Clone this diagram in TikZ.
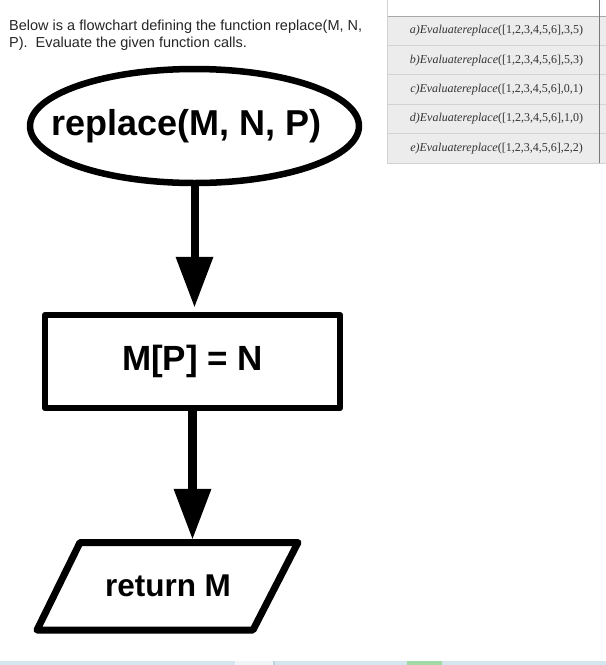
\documentclass[tikz,border=0pt]{standalone}
\usepackage{fontspec}
\setmainfont{Liberation Serif}
\newfontfamily\arial{Liberation Sans}
\usetikzlibrary{shapes.geometric,arrows.meta}
\definecolor{rowbg}{HTML}{ECECEC}
\definecolor{gridc}{HTML}{D2D2D2}
\definecolor{gridm}{HTML}{A8A8A8}
\definecolor{gridd}{HTML}{7A7A7A}
\definecolor{celltxt}{HTML}{333333}
\definecolor{stripA}{HTML}{D6E6EE}
\definecolor{stripB}{HTML}{EEF4F7}
\definecolor{stripC}{HTML}{BFD3DD}
\definecolor{stripG}{HTML}{A3D9A5}
\begin{document}
\begin{tikzpicture}[x=1pt,y=-1pt,
  flow/.style={draw=black, fill=white, inner sep=0pt, line join=round},
  conn/.style={line width=8pt, -{Triangle[width=38pt,length=50pt,line width=0pt]}},
  qtext/.style={font=\arial\fontsize{14.5}{16.6}\selectfont, anchor=base west, inner sep=0pt, text=black!85},
  celltext/.style={font=\fontsize{12}{14}\selectfont, inner sep=0pt, text=celltxt}
]
\fill[white] (0,0) rectangle (606,665);
\useasboundingbox (0,0) rectangle (606,665);

% bottom strip
\fill[stripA] (0,661) rectangle (235,665);
\fill[stripB] (235,661) rectangle (273,665);
\fill[stripC] (273,661) rectangle (275,665);
\fill[stripA] (275,661) rectangle (407,665);
\fill[stripG] (407,661) rectangle (442,665);
\fill[stripA] (442,661) rectangle (606,665);

% question text
\node[qtext] (q1) at (9,30.7) {Below is a flowchart defining the function replace(M, N,};
\node[qtext] (q2) at (9,47.3) {P).\hspace{8pt}Evaluate the given function calls.};

% table
\fill[rowbg] (387,16) rectangle (606,163);
\foreach \yy in {45.4,74.8,104.2,133.6,163} \draw[gridc, line width=1pt] (387,\yy) -- (606,\yy);
\draw[gridm, line width=1pt] (387,16) -- (606,16);
\draw[gridc, line width=1pt] (387,0) -- (387,163.5);
\draw[gridd, line width=1pt] (599,0) -- (599,163);

\node[celltext] (ta) at (496.5,30.9) {\textit{a)Evaluatereplace}([1,2,3,4,5,6],3,5)};
\node[celltext] (tb) at (496.5,60.3) {\textit{b)Evaluatereplace}([1,2,3,4,5,6],5,3)};
\node[celltext] (tc) at (496.5,89.7) {\textit{c)Evaluatereplace}([1,2,3,4,5,6],0,1)};
\node[celltext] (td) at (496.5,119.1) {\textit{d)Evaluatereplace}([1,2,3,4,5,6],1,0)};
\node[celltext] (te) at (496.5,148.5) {\textit{e)Evaluatereplace}([1,2,3,4,5,6],2,2)};

% flowchart
\node[flow, ellipse, line width=6.5pt, minimum width=329pt, minimum height=114pt,
      font=\arial\bfseries\fontsize{36}{40}\selectfont] (start) at (194.5,126)
      {\makebox[0pt]{\kern-16pt replace(M, N, P)}};
\node[flow, rectangle, line width=6.5pt, minimum width=295pt, minimum height=93pt,
      font=\arial\bfseries\fontsize{35}{40}\selectfont] (assign) at (192.5,361.5) {M[P] = N};
% parallelogram outline
\draw[line width=7pt, line join=round, fill=white]
  (80,542.5) -- (298,542.5) -- (253,630) -- (37,630) -- cycle;
\node[inner sep=0pt, minimum width=180pt, minimum height=94.5pt,
      font=\arial\bfseries\fontsize{31.5}{36}\selectfont] (ret) at (168,586.25) {return M};

\draw[conn, shorten >=5pt] (start.south) -- (start.south |- assign.north);
\draw[conn, line width=9pt] (assign.south) -- (assign.south |- ret.north);
\end{tikzpicture}
\end{document}
